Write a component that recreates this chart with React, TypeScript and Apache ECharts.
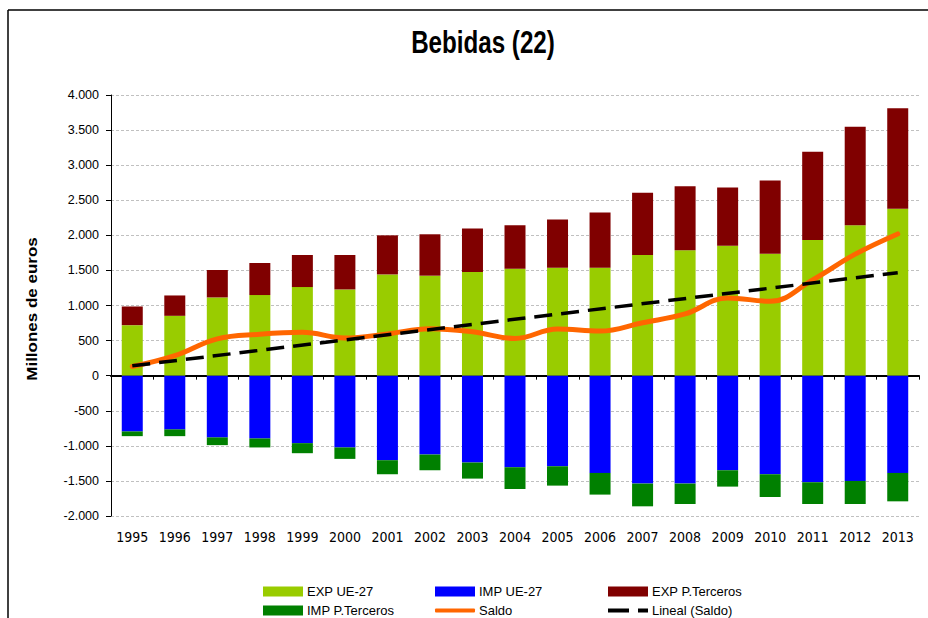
import React, { useEffect, useRef } from "react";
import * as echarts from "echarts";

const categories = ["1995","1996","1997","1998","1999","2000","2001","2002","2003","2004","2005","2006","2007","2008","2009","2010","2011","2012","2013"];
const expUE = [720, 853, 1115, 1149, 1263, 1229, 1443, 1425, 1477, 1525, 1539, 1539, 1720, 1786, 1853, 1739, 1935, 2143, 2378];
const impUE = [-795, -766, -880, -895, -962, -1023, -1205, -1124, -1238, -1305, -1291, -1386, -1538, -1538, -1348, -1405, -1519, -1500, -1386];
const expPT = [266, 290, 391, 457, 457, 491, 557, 590, 619, 618, 686, 786, 886, 915, 829, 1043, 1257, 1406, 1433];
const impPT = [-67, -96, -110, -128, -143, -163, -200, -224, -229, -310, -276, -309, -324, -291, -233, -324, -310, -329, -405];
const saldo = [130, 285, 525, 590, 618, 538, 595, 670, 625, 530, 665, 635, 755, 880, 1108, 1060, 1365, 1732, 2020];
// linear trend of Saldo: value at first and last category
const trendEnds = [140, 1468];

const FONT = '"Liberation Sans", Arial, sans-serif';

function fmt(v: number) {
  const s = Math.abs(v).toString();
  const withDots = s.replace(/\B(?=(\d{3})+(?!\d))/g, ".");
  return (v < 0 ? "-" : "") + withDots;
}

export default function App() {
  const ref = useRef<HTMLDivElement>(null);
  useEffect(() => {
    if (!ref.current) return;
    const chart = echarts.init(ref.current, undefined, { renderer: "svg" });
    const trend = categories.map((_, i) =>
      i === 0 ? trendEnds[0] : i === categories.length - 1 ? trendEnds[1] : null
    );
    const legendBase = {
      padding: 0,
      itemWidth: 40,
      itemHeight: 10,
      itemGap: 0,
      textStyle: { fontFamily: FONT, fontSize: 13, color: "#000", padding: [0, 0, 0, -1] },
      selectedMode: false,
    };
    chart.setOption({
      animation: false,
      backgroundColor: "#fff",
      grid: { left: 111, right: 9, top: 95, bottom: 102, containLabel: false },
      graphic: [
        { type: "line", shape: { x1: 8, y1: 10, x2: 928, y2: 10 }, style: { stroke: "#000", lineWidth: 1.5 } },
        { type: "line", shape: { x1: 8, y1: 10, x2: 8, y2: 618 }, style: { stroke: "#000", lineWidth: 1.5 } },
        {
          type: "text",
          x: 483,
          y: 42,
          scaleX: 0.78,
          style: {
            text: "Bebidas (22)",
            font: `bold 31px ${FONT}`,
            textAlign: "center",
            textVerticalAlign: "middle",
            fill: "#000",
          },
        },
        {
          type: "text",
          x: 32,
          y: 309,
          rotation: Math.PI / 2,
          scaleY: 0.82,
          style: {
            text: "Millones de euros",
            font: `bold 17px ${FONT}`,
            textAlign: "center",
            textVerticalAlign: "middle",
            fill: "#000",
          },
        },
      ],
      legend: [
        { ...legendBase, left: 263, top: 585, data: [{ name: "EXP UE-27", icon: "rect" }] },
        { ...legendBase, left: 435, top: 585, data: [{ name: "IMP UE-27", icon: "rect" }] },
        { ...legendBase, left: 608, top: 585, data: [{ name: "EXP P.Terceros", icon: "rect" }] },
        { ...legendBase, left: 263, top: 604, data: [{ name: "IMP P.Terceros", icon: "rect" }] },
        { ...legendBase, left: 435, top: 604, itemHeight: 4, data: [{ name: "Saldo", icon: "roundRect" }] },
        {
          ...legendBase,
          left: 608,
          top: 604,
          itemHeight: 4,
          data: [{ name: "Lineal (Saldo)", icon: "path://M0,0H21V4H0Z M30,0H40V4H30Z" }],
        },
      ],
      xAxis: [
        {
          type: "category",
          data: categories,
          position: "bottom",
          axisLine: { show: false, onZero: false },
          axisTick: { show: false },
          axisLabel: {
            margin: 14,
            fontFamily: '"DejaVu Sans Condensed", "Liberation Sans Narrow", "DejaVu Sans", sans-serif',
            fontSize: 14,
            color: "#000",
          },
          splitLine: { show: false },
        },
        {
          type: "category",
          data: categories,
          position: "top",
          axisLine: { show: true, onZero: true, lineStyle: { color: "#000", width: 2 } },
          axisTick: { show: true, inside: true, length: 4, lineStyle: { color: "#000" } },
          axisLabel: { show: false },
          splitLine: { show: false },
        },
      ],
      yAxis: {
        type: "value",
        min: -2000,
        max: 4000,
        interval: 500,
        axisLine: { show: true, lineStyle: { color: "#000", width: 1 } },
        axisTick: { show: true, length: 5, lineStyle: { color: "#000" } },
        axisLabel: { margin: 12, fontFamily: FONT, fontSize: 12.5, color: "#000", formatter: (v: number) => fmt(v) },
        splitLine: { show: true, lineStyle: { color: "#c0c0c0", type: [3, 2], width: 1 } },
      },
      series: [
        { name: "EXP UE-27", type: "bar", stack: "t", barWidth: 21, data: expUE, itemStyle: { color: "#99CC00" } },
        { name: "IMP UE-27", type: "bar", stack: "t", barWidth: 21, data: impUE, itemStyle: { color: "#0000FF" } },
        { name: "EXP P.Terceros", type: "bar", stack: "t", barWidth: 21, data: expPT, itemStyle: { color: "#800000" } },
        { name: "IMP P.Terceros", type: "bar", stack: "t", barWidth: 21, data: impPT, itemStyle: { color: "#008000" } },
        {
          name: "Saldo",
          type: "line",
          data: saldo,
          smooth: 0.4,
          symbol: "none",
          itemStyle: { color: "#FF6600" },
          lineStyle: { color: "#FF6600", width: 5, cap: "round" },
          z: 3,
        },
        {
          name: "Lineal (Saldo)",
          type: "line",
          data: trend,
          connectNulls: true,
          symbol: "none",
          itemStyle: { color: "#000" },
          lineStyle: { color: "#000", width: 3.5, type: [18, 9] },
          z: 4,
        },
      ],
    });
    return () => chart.dispose();
  }, []);
  return (
    <div
      ref={ref}
      style={{ position: "fixed", left: 0, top: 0, width: 928, height: 618, background: "#fff" }}
    />
  );
}
